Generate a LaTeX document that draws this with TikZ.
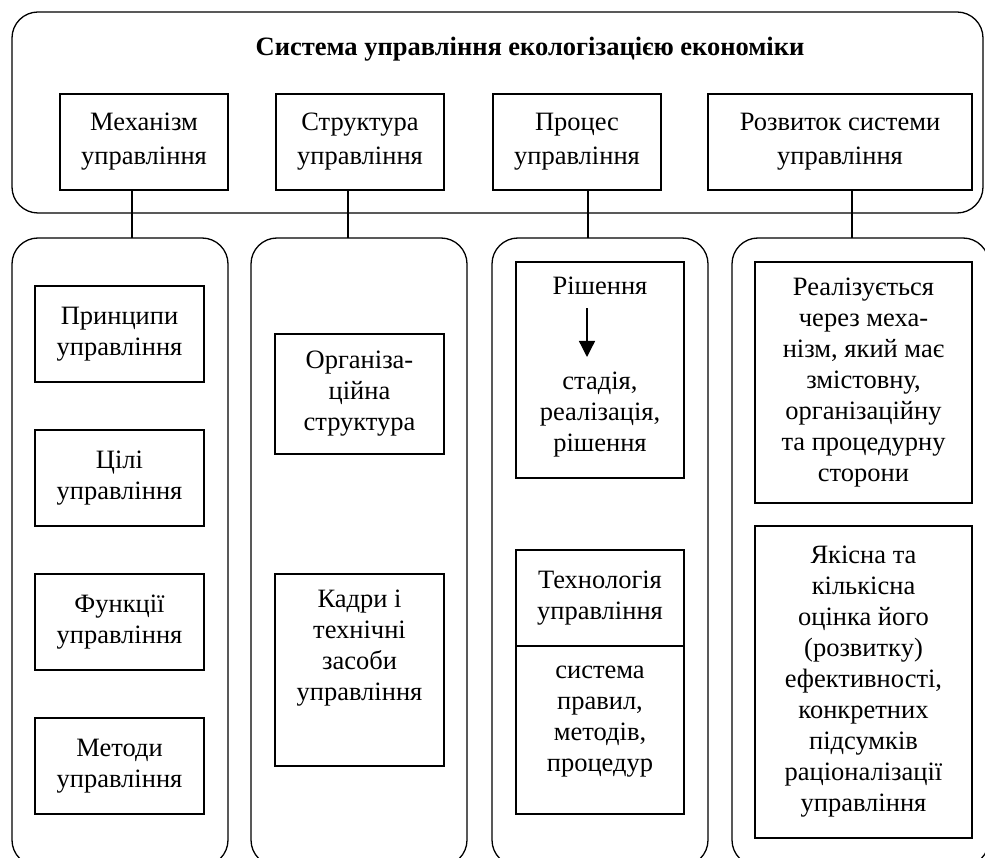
\documentclass[tikz,border=0pt]{standalone}
\usepackage{fontspec}
\setmainfont{Liberation Serif}
\usetikzlibrary{arrows.meta,positioning}
\tikzset{
	box/.style={draw, line width=1.3pt, align=center, inner sep=0pt, outer sep=0pt},
	panel/.style={draw, line width=1.3pt, rounded corners=26pt, inner sep=0pt, outer sep=0pt},
	txt/.style={align=center, inner sep=0pt},
	link/.style={line width=1.3pt}
}

\begin{document}
\begin{tikzpicture}[x=1pt, y=-1pt, font=\fontsize{26.5}{31}\selectfont]
		\useasboundingbox (0,0) rectangle (985,858);
		\clip (0,0) rectangle (985,858);

		% Outer frame and title
		\node[panel, anchor=north west, minimum width=971pt, minimum height=201pt] (sys) at (12,12) {};
		\node[anchor=base, inner sep=0pt, font=\fontsize{26.5}{31}\selectfont\bfseries] (title) at (530,56) {Система управління екологізацією економіки};

		% Top boxes
		\node[box, font=\fontsize{26.5}{34}\selectfont, minimum width=168pt, minimum height=96pt, anchor=north west] (mech) at (60,94) {Механізм\\управління};
		\node[box, font=\fontsize{26.5}{34}\selectfont, minimum width=168pt, minimum height=96pt, anchor=north west] (struct) at (276,94) {Структура\\управління};
		\node[box, font=\fontsize{26.5}{34}\selectfont, minimum width=168pt, minimum height=96pt, anchor=north west] (proc) at (493,94) {Процес\\управління};
		\node[box, font=\fontsize{26.5}{34}\selectfont, minimum width=264pt, minimum height=96pt, anchor=north west] (dev) at (708,94) {Розвиток системи\\управління};

		% Lower panels
		\node[panel, minimum width=216pt, minimum height=628pt, anchor=north west] (pmech) at (12,238) {};
		\node[panel, minimum width=216pt, minimum height=628pt, anchor=north west] (pstruct) at (251,238) {};
		\node[panel, minimum width=216pt, minimum height=628pt, anchor=north west] (pproc) at (492,238) {};
		\node[panel, minimum width=257pt, minimum height=628pt, anchor=north west] (pdev) at (732,238) {};

		% Connectors
		\foreach \a/\b/\s in {mech/pmech/-12, struct/pstruct/-12, proc/pproc/11, dev/pdev/12}{
			\coordinate (t) at ([xshift=\s pt]\a.south);
			\draw[link] (t) -- (t |- \b.north);
		}

		% Mechanism panel
		\foreach \n/\y/\t in {prin/286/Принципи, goal/430/Цілі, func/574/Функції, meth/718/Методи}
			\node[box, minimum width=169pt, minimum height=96pt, anchor=north west] (\n) at (35,\y) {\t\\управління};

		% Structure panel
		\node[box, minimum width=169pt, minimum height=120pt, anchor=north west] (org) at (275,334) {Організа-\\ційна\\структура};
		\node[box, minimum width=169pt, minimum height=192pt, anchor=north west] (staff) at (275,574) {};
		\node[txt, anchor=north] (stafft) at ([yshift=-16pt]staff.north) {Кадри і\\технічні\\засоби\\управління};

		% Process panel
		\node[box, minimum width=168pt, minimum height=216pt, anchor=north west] (dec) at (516,262) {};
		\node[txt, anchor=north] (dect) at ([yshift=-15pt]dec.north) {Рішення};
		\node[txt, anchor=north] (stage) at ([yshift=-110pt]dec.north) {стадія,\\реалізація,\\рішення};
		\draw[link, -{Triangle[width=16pt,length=16pt]}, shorten <=13pt, shorten >=15pt] ([xshift=-13pt]dect.south) -- ([xshift=-13pt]stage.north);

		\node[box, minimum width=168pt, minimum height=96pt, anchor=north west] (tech) at (516,550) {Технологія\\управління};
		\node[box, minimum width=168pt, minimum height=168pt, below=0pt of tech] (techb) {};
		\node[txt, anchor=north] (techt) at ([yshift=-20pt]techb.north) {система\\правил,\\методів,\\процедур};

		% Development panel
		\node[box, minimum width=217pt, minimum height=241pt, anchor=north west] (realz) at (755,262) {Реалізується\\через меха-\\нізм, який має\\змістовну,\\організаційну\\та процедурну\\сторони};
		\node[box, minimum width=217pt, minimum height=312pt, anchor=north west] (eval) at (755,526) {Якісна та\\кількісна\\оцінка його\\(розвитку)\\ефективності,\\конкретних\\підсумків\\раціоналізації\\управління};
	\end{tikzpicture}
\end{document}
